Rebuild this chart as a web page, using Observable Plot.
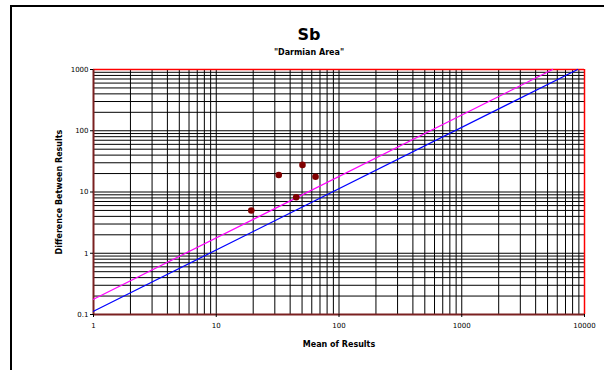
<!DOCTYPE html>
<html>
<head>
<meta charset="utf-8">
<script src="https://cdn.jsdelivr.net/npm/d3@7"></script>
<script src="https://cdn.jsdelivr.net/npm/@observablehq/plot@0.6"></script>
<style>
  html, body { margin: 0; padding: 0; background: #fff; }
  #wrap { position: relative; width: 604px; height: 370px; overflow: hidden; }
  #frame { position: absolute; left: 10px; top: 5px; width: 700px; height: 500px;
           border-left: 2px solid #000; border-top: 2px solid #000; }
  #chart { position: absolute; left: 0; top: 0; }
</style>
</head>
<body>
<div id="wrap"><div id="frame"></div><div id="chart"></div></div>
<script>
// Data
const meanOfResults = [19.3, 32.3, 50.4, 64.4, 44.8];
const differenceBetweenResults = [5.0, 19.0, 27.7, 17.7, 8.2];

// Control lines (endpoints)
const magentaLineX = [1, 5500];
const magentaLineY = [0.177, 1000];
const blueLineX = [1, 8800];
const blueLineY = [0.113, 1000];

const xTickValues = [1, 10, 100, 1000, 10000];
const xTickLabels = ["1", "10", "100", "1000", "10000"];
const yTickValues = [0.1, 1, 10, 100, 1000];
const yTickLabels = ["0.1", "1", "10", "100", "1000"];

const titleText = "Sb";
const subtitleText = "\"Darmian Area\"";
const xTitle = "Mean of Results";
const yTitle = "Difference Between Results";

const points = meanOfResults.map((m, i) => ({x: m, y: differenceBetweenResults[i]}));
const magenta = magentaLineX.map((x, i) => ({x, y: magentaLineY[i]}));
const blue = blueLineX.map((x, i) => ({x, y: blueLineY[i]}));

const xGrid = d3.scaleLog().domain([1, 10000]).ticks();
const yGrid = d3.scaleLog().domain([0.1, 1000]).ticks();

const font = "'DejaVu Sans', sans-serif";

const plot = Plot.plot({
  width: 604,
  height: 370,
  marginLeft: 93,
  marginRight: 20,
  marginTop: 69,
  marginBottom: 56,
  style: {fontFamily: font, background: "transparent", overflow: "visible"},
  x: {type: "log", domain: [1, 10000], axis: null},
  y: {type: "log", domain: [0.1, 1000], axis: null},
  marks: [
    Plot.ruleX(xGrid, {stroke: "#000", strokeWidth: 1}),
    Plot.ruleY(yGrid, {stroke: "#000", strokeWidth: 1}),
    // top and right border (red)
    Plot.ruleY([1000], {stroke: "#ff0000", strokeWidth: 1.5}),
    Plot.ruleX([10000], {stroke: "#ff0000", strokeWidth: 1.5}),
    // left and bottom axis lines (dark red)
    Plot.ruleX([1], {stroke: "#7a2020", strokeWidth: 2}),
    Plot.ruleY([0.1], {stroke: "#7a2020", strokeWidth: 2}),
    // lines
    Plot.line(magenta, {x: "x", y: "y", stroke: "#ff00ff", strokeWidth: 1.2}),
    Plot.line(blue, {x: "x", y: "y", stroke: "#0000ff", strokeWidth: 1.2}),
    // points
    Plot.dot(points, {x: "x", y: "y", r: 3.3, fill: "#800000", stroke: "none"}),
    // axis ticks and labels
    Plot.axisX(xTickValues, {
      tickSize: 3, tickFormat: (d) => xTickLabels[xTickValues.indexOf(d)],
      fontSize: 7, tickPadding: 6, label: null, stroke: "#000"
    }),
    Plot.axisY(yTickValues, {
      tickSize: 3, tickFormat: (d) => yTickLabels[yTickValues.indexOf(d)],
      fontSize: 7, tickPadding: 2, label: null, stroke: "#000"
    }),
    // titles
    Plot.text([titleText], {frameAnchor: "top", dy: -41, fontSize: 16, fontWeight: "bold", dx: -30, fill: "#000"}),
    Plot.text([subtitleText], {frameAnchor: "top", dy: -20, fontSize: 8, fontWeight: "bold", dx: -30, fill: "#000"}),
    Plot.text([xTitle], {frameAnchor: "bottom", dy: 32, fontSize: 8, fontWeight: "bold", fill: "#000"}),
    Plot.text([yTitle], {frameAnchor: "left", dx: -34, rotate: -90, textAnchor: "middle", fontSize: 8, fontWeight: "bold", fill: "#000"})
  ]
});
document.getElementById("chart").appendChild(plot);
</script>
</body>
</html>
